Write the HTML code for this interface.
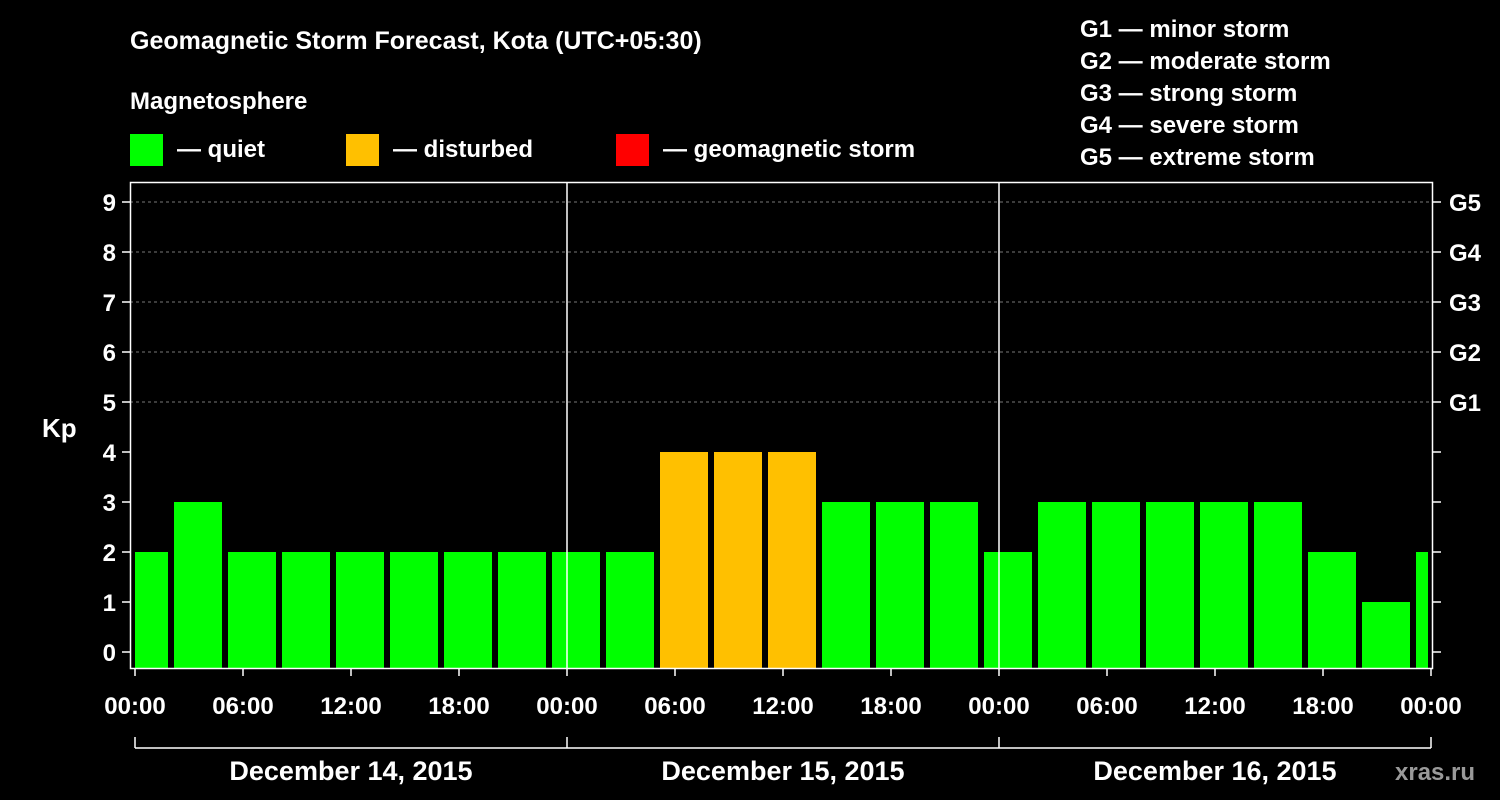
<!DOCTYPE html>
<html><head><meta charset="utf-8">
<style>
html,body{margin:0;padding:0;background:#000;}
svg{display:block;font-family:"Liberation Sans",Arial,sans-serif;font-weight:bold;}
</style></head>
<body>
<svg id="chart" width="1500" height="800" viewBox="0 0 1500 800">
<rect x="0" y="0" width="1500" height="800" fill="#000"/>
<text x="130" y="49" fill="#fff" font-size="25">Geomagnetic Storm Forecast, Kota (UTC+05:30)</text>
<text x="130" y="109" fill="#fff" font-size="24">Magnetosphere</text>
<g><rect x="130" y="134" width="33" height="32" fill="#00ff00"/><text x="177" y="157" fill="#fff" font-size="24">— quiet</text></g>
<g><rect x="346" y="134" width="33" height="32" fill="#ffc000"/><text x="393" y="157" fill="#fff" font-size="24">— disturbed</text></g>
<g><rect x="616" y="134" width="33" height="32" fill="#ff0000"/><text x="663" y="157" fill="#fff" font-size="24">— geomagnetic storm</text></g>
<g fill="#fff" font-size="24">
<text x="1080" y="37">G1 — minor storm</text>
<text x="1080" y="69">G2 — moderate storm</text>
<text x="1080" y="101">G3 — strong storm</text>
<text x="1080" y="133">G4 — severe storm</text>
<text x="1080" y="165">G5 — extreme storm</text>
</g>
<g id="grid"></g>
<g id="bars"></g>
<g id="axes"></g>
<text x="42" y="437" fill="#fff" font-size="26">Kp</text>
<text x="1395" y="780" fill="#9a9a9a" font-size="24">xras.ru</text>
</svg>
<script>
const kpValues = [2,3,2,2,2,2,2,2,2,2,4,4,4,3,3,3,2,3,3,3,3,3,2,1,2];
const slotStartHours = [-1,2,5,8,11,14,17,20,23,26,29,32,35,38,41,44,47,50,53,56,59,62,65,68,71];
const yTicks = [0,1,2,3,4,5,6,7,8,9];
const gLabels = ["G1","G2","G3","G4","G5"];
const gLevels = [5,6,7,8,9];
const xTickLabels = ["00:00","06:00","12:00","18:00","00:00","06:00","12:00","18:00","00:00","06:00","12:00","18:00","00:00"];
const dayLabels = ["December 14, 2015","December 15, 2015","December 16, 2015"];

const NS="http://www.w3.org/2000/svg";
const x0=135, pxPerHour=18, y0=652, pxPerKp=50;
const plotL=130, plotR=1433, plotT=182, plotB=668;
const xs=h=>x0+h*pxPerHour;
const ys=v=>y0-v*pxPerKp;
function mk(tag,attrs,parent){const e=document.createElementNS(NS,tag);for(const k in attrs)e.setAttribute(k,attrs[k]);parent.appendChild(e);return e;}
const grid=document.getElementById('grid'),bars=document.getElementById('bars'),axes=document.getElementById('axes');

gLevels.forEach(v=>{
  const l=mk('line',{x1:plotL,x2:plotR,y1:ys(v),y2:ys(v),stroke:'#777','stroke-dasharray':'3,3','stroke-width':1},grid);
  
  
});

kpValues.forEach((v,i)=>{
  let a=xs(slotStartHours[i])+3, b=xs(slotStartHours[i]+3)-3;
  a=Math.max(a,x0); b=Math.min(b,1428);
  const col=v>=5?'#ff0000':(v>=4?'#ffc000':'#00ff00');
  const r=mk('rect',{x:a,y:ys(v),width:b-a,height:plotB-ys(v),fill:col},bars);
  
  
});

// frame
mk('rect',{x:plotL+0.5,y:plotT+0.5,width:plotR-plotL-1,height:plotB-plotT,fill:'none',stroke:'#fff','stroke-width':1.5},axes);
[24,48].forEach(h=>{mk('line',{x1:xs(h),x2:xs(h),y1:plotT,y2:plotB,stroke:'#fff','stroke-width':1.5},axes);});

yTicks.forEach(v=>{
  mk('line',{x1:plotL-8,x2:plotL,y1:ys(v),y2:ys(v),stroke:'#fff','stroke-width':1.5},axes);
  mk('line',{x1:plotR,x2:plotR+8,y1:ys(v),y2:ys(v),stroke:'#fff','stroke-width':1.5},axes);
  const t=mk('text',{x:plotL-14,y:ys(v)+9,fill:'#fff','font-size':24,'text-anchor':'end'},axes);
  t.textContent=v;
  
  
});
gLevels.forEach((v,i)=>{
  const t=mk('text',{x:1449,y:ys(v)+9,fill:'#fff','font-size':24},axes);
  t.textContent=gLabels[i];
  
  
});
xTickLabels.forEach((lab,i)=>{
  const x=xs(i*6);
  mk('line',{x1:x,x2:x,y1:plotB,y2:plotB+8,stroke:'#fff','stroke-width':1.5},axes);
  const t=mk('text',{x:x,y:714,fill:'#fff','font-size':24,'text-anchor':'middle'},axes);
  t.textContent=lab;
  
  
});
mk('line',{x1:xs(0),x2:xs(72),y1:748,y2:748,stroke:'#fff','stroke-width':1.5},axes);
[0,24,48,72].forEach(h=>mk('line',{x1:xs(h),x2:xs(h),y1:737,y2:748,stroke:'#fff','stroke-width':1.5},axes));
dayLabels.forEach((d,i)=>{
  const t=mk('text',{x:xs(i*24+12),y:780,fill:'#fff','font-size':27,'text-anchor':'middle'},axes);
  t.textContent=d;
  
  
});
</script>
</body></html>
